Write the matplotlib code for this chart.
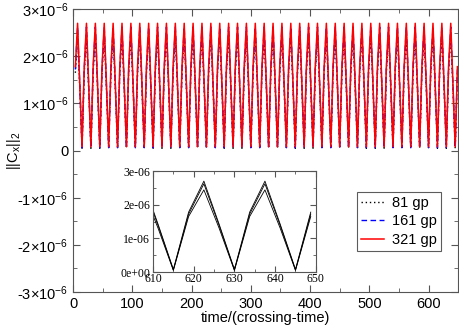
import numpy as np
import matplotlib
matplotlib.use("Agg")
import matplotlib.pyplot as plt
from matplotlib.ticker import MultipleLocator

plt.rcParams["font.family"] = "Liberation Sans"
plt.rcParams["mathtext.fontset"] = "custom"
plt.rcParams["mathtext.rm"] = "Liberation Sans"
plt.rcParams["mathtext.default"] = "regular"

# output sampled every 3.75 crossing-times, first sample at 3.75
SAMPLE_DT = 3.75
N_SAMPLES = 173

# one oscillation (4 samples: rising, peak, falling, trough)
cycle_81 = [1.65e-6, 2.44e-6, 1.30e-6, 0.05e-6]
cycle_161 = [1.72e-6, 2.62e-6, 1.38e-6, 0.06e-6]
cycle_321 = [1.78e-6, 2.70e-6, 1.42e-6, 0.08e-6]

labels = ["81 gp", "161 gp", "321 gp"]
yticks = [-3e-6, -2e-6, -1e-6, 0, 1e-6, 2e-6, 3e-6]
ytick_labels = ["-3\u00d710$^{-6}$", "-2\u00d710$^{-6}$", "-1\u00d710$^{-6}$", "0",
                "1\u00d710$^{-6}$", "2\u00d710$^{-6}$", "3\u00d710$^{-6}$"]
inset_yticks = [0, 1e-6, 2e-6, 3e-6]
inset_ytick_labels = ["0e+00", "1e-06", "2e-06", "3e-06"]

t = SAMPLE_DT * np.arange(1, N_SAMPLES + 1)
n_cyc = N_SAMPLES // 4 + 1
y81 = np.tile(cycle_81, n_cyc)[:N_SAMPLES]
y161 = np.tile(cycle_161, n_cyc)[:N_SAMPLES]
y321 = np.tile(cycle_321, n_cyc)[:N_SAMPLES]

fig = plt.figure(figsize=(4.6, 3.27), dpi=100)
ax = fig.add_axes([0.159, 0.107, 0.837, 0.865])

ax.plot(t, y81, color="black", ls=(0, (1, 2)), lw=1.0, label=labels[0])
ax.plot(t, y161, color="blue", ls=(0, (4, 2.5)), lw=1.0, label=labels[1])
ax.plot(t, y321, color="red", ls="-", lw=1.1, label=labels[2])

ax.set_xlim(0, 650)
ax.set_ylim(-3e-6, 3e-6)
ax.set_yticks(yticks)
ax.set_yticklabels(ytick_labels)
ax.xaxis.set_major_locator(MultipleLocator(100))
ax.xaxis.set_minor_locator(MultipleLocator(50))
ax.yaxis.set_minor_locator(MultipleLocator(0.5e-6))
ax.tick_params(which="both", direction="in", top=True, right=True, labelsize=10.5,
               color="#555555")
ax.tick_params(which="major", length=5)
ax.tick_params(which="minor", length=3)
for sp in ax.spines.values():
    sp.set_color("#555555")
ax.set_xlabel("time/(crossing-time)", fontsize=10.5, labelpad=0)
ax.set_ylabel("||C$_x$||$_2$", fontsize=10.5)
ax.yaxis.set_label_coords(-0.13, 0.5)

leg = ax.legend(loc="upper left", bbox_to_anchor=(0.738, 0.353), borderaxespad=0,
                fancybox=False, edgecolor="#333333", fontsize=10.5, handlelength=1.6,
                labelspacing=0.32, borderpad=0.25, handletextpad=0.55)
leg.get_frame().set_linewidth(0.8)

# inset zoom on the last few oscillations
axin = fig.add_axes([0.3326, 0.168, 0.354, 0.309])
for y in (y81, y161, y321):
    axin.plot(t, y, color="black", lw=0.6)
axin.set_xlim(610, 650)
axin.set_ylim(0, 3e-6)
axin.set_xticks([610, 620, 630, 640, 650])
axin.set_yticks(inset_yticks)
axin.set_yticklabels(inset_ytick_labels)
axin.xaxis.set_minor_locator(MultipleLocator(5))
axin.yaxis.set_minor_locator(MultipleLocator(0.5e-6))
axin.tick_params(which="both", direction="in", top=True, right=True, labelsize=8.5,
                 color="#555555")
axin.tick_params(axis="x", pad=1)
axin.tick_params(axis="y", pad=2)
axin.tick_params(which="major", length=4)
axin.tick_params(which="minor", length=2.5)
for lab in axin.get_xticklabels() + axin.get_yticklabels():
    lab.set_family("Liberation Serif")
for sp in axin.spines.values():
    sp.set_color("#555555")

fig.savefig("out.png", dpi=100)
